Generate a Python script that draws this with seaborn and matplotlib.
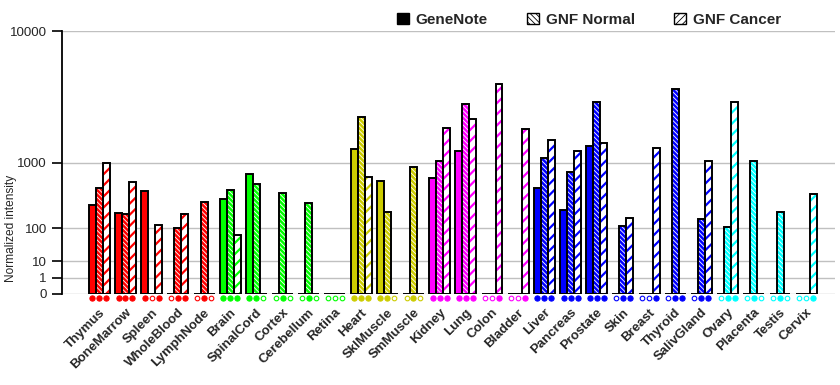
import numpy as np
import pandas as pd
import seaborn as sns
import matplotlib
matplotlib.use("Agg")
import matplotlib.pyplot as plt
from matplotlib.patches import Patch, Rectangle
from matplotlib.transforms import ScaledTranslation, blended_transform_factory

# ----------------------------
# data
# ----------------------------
tissues = ["Thymus", "BoneMarrow", "Spleen", "WholeBlood", "LymphNode",
           "Brain", "SpinalCord", "Cortex", "Cerebellum", "Retina",
           "Heart", "SklMuscle", "SmMuscle",
           "Kidney", "Lung", "Colon", "Bladder",
           "Liver", "Pancreas", "Prostate", "Skin", "Breast", "Thyroid", "SalivGland",
           "Ovary", "Placenta", "Testis", "Cervix"]
tissue_groups = ["red"] * 5 + ["green"] * 5 + ["olive"] * 3 + ["magenta"] * 4 + ["blue"] * 7 + ["cyan"] * 4
series = ["GeneNote", "GNF Normal", "GNF Cancer"]

genenote = [277, 203, 450, 0, 0, 344, 746, 0, 0, 0, 1368, 612, 0, 667, 1306, 0, 0,
            495, 229, 1487, 0, 0, 0, 0, 0, 0, 0, 0]
gnf_normal = [495, 195, 0, 103, 310, 464, 560, 422, 298, 0, 2660, 211, 901, 1026, 3390, 0, 0,
              1122, 782, 3486, 114, 0, 4340, 157, 109, 1033, 211, 0]
gnf_cancer = [984, 594, 118, 195, 0, 70, 0, 0, 0, 0, 680, 0, 0, 2188, 2594, 4700, 2143,
              1694, 1306, 1600, 164, 1430, 0, 1033, 3486, 0, 0, 408]
# present (1) / absent (0) call markers under each bar
calls = ["111", "111", "101", "011", "010", "111", "110", "010", "010", "000",
         "111", "110", "010", "111", "111", "001", "001",
         "111", "111", "111", "011", "001", "011", "011",
         "011", "010", "010", "001"]
yticks = [0, 1, 10, 100, 1000, 10000]

group_colors = {"red": "#ff0000", "green": "#00ff00", "olive": "#cccc00",
                "magenta": "#ff00ff", "blue": "#0000ff", "cyan": "#00ffff"}

df = pd.DataFrame({
    "tissue": tissues * 3,
    "series": np.repeat(series, len(tissues)),
    "value": genenote + gnf_normal + gnf_cancer,
})

# ----------------------------
# style
# ----------------------------
sns.set_style("white")
plt.rcParams["font.family"] = ["Liberation Sans", "DejaVu Sans"]
plt.rcParams["hatch.linewidth"] = 0.6

fig = plt.figure(figsize=(8.4, 3.85), dpi=100)
ax = fig.add_axes([62 / 840, 1 - 294 / 385, 773 / 840, 263 / 385])

sns.barplot(data=df, x="tissue", y="value", hue="series", order=tissues,
            hue_order=series, width=0.8, gap=0, saturation=1, legend=False,
            errorbar=None, ax=ax)

# power scale: each decade is twice as tall as the previous one
k = np.log10(2)
ax.set_yscale("function", functions=(lambda v: np.power(np.clip(v, 0, None), k),
                                     lambda t: np.power(np.clip(t, 0, None), 1 / k)))
ax.set_ylim(0, 10000)
ax.set_yticks(yticks)
ax.set_yticklabels([str(t) for t in yticks], fontsize=9.6)
ax.set_xlim(-1.425, 28.1)

# restyle bars per tissue colour / series pattern
trans = blended_transform_factory(ax.transData, ax.transAxes)
for s_idx, cont in enumerate(ax.containers):
    for p in cont.patches:
        cx = p.get_x() + p.get_width() / 2
        t_idx = int(round(cx))
        col = group_colors[tissue_groups[t_idx]]
        if s_idx == 0:
            p.set_facecolor(col)
            p.set_edgecolor(col)
        elif s_idx == 1:
            p.set_facecolor(col)
            p.set_edgecolor("white")
            p.set_hatch("\\\\\\\\\\\\\\")
            if hasattr(p, "set_hatch_linewidth"):
                p.set_hatch_linewidth(0.6)
        else:
            p.set_facecolor("white")
            p.set_edgecolor(col)
            p.set_hatch("///")
            if hasattr(p, "set_hatch_linewidth"):
                p.set_hatch_linewidth(1.6)
        p.set_linewidth(0)
        ax.add_patch(Rectangle(p.get_xy(), p.get_width(), p.get_height(), fill=False,
                               edgecolor="black", linewidth=1.4, zorder=3))
        # present / absent marker under the bar
        present = calls[t_idx][s_idx] == "1"
        ax.scatter([cx], [-0.017], transform=trans, s=14 if present else 11,
                   marker="o", facecolor=col if present else "white",
                   edgecolor=col, linewidth=0.8, clip_on=False, zorder=4)

# axes decoration
ax.grid(axis="y", color="#c0c0c0", linewidth=1)
ax.set_axisbelow(True)
for side in ["top", "right", "bottom"]:
    ax.spines[side].set_visible(False)
ax.spines["left"].set_linewidth(1.3)
ax.spines["left"].set_color("black")
ax.tick_params(axis="y", length=7, width=1.2, color="black", pad=4, direction="out", left=True)
ax.tick_params(axis="x", length=0, pad=12)
ax.set_xlabel("")
ax.set_ylabel("Normalized intensity", fontsize=8.6)
ax.yaxis.set_label_coords(-0.058, 0.249)

ax.set_xticks(range(len(tissues)))
ax.set_xticklabels(tissues, rotation=45, ha="right", va="center",
                   rotation_mode="anchor", fontsize=9.5, fontweight="bold")
offset = ScaledTranslation(4 / 100, 0, fig.dpi_scale_trans)
for lbl in ax.get_xticklabels():
    lbl.set_transform(lbl.get_transform() + offset)

# legend above the plot
handles = [Patch(facecolor="black", edgecolor="black"),
           Patch(facecolor="white", edgecolor="black", hatch="\\\\\\\\\\\\"),
           Patch(facecolor="white", edgecolor="black", hatch="/////")]
fig.legend(handles, series, loc="center", bbox_to_anchor=(589 / 840, 1 - 20 / 385),
           ncol=3, frameon=False, prop={"size": 11, "weight": "bold"},
           handlelength=0.75, handleheight=0.75, handletextpad=0.45, columnspacing=2.6)

fig.savefig("out.png", dpi=100)
